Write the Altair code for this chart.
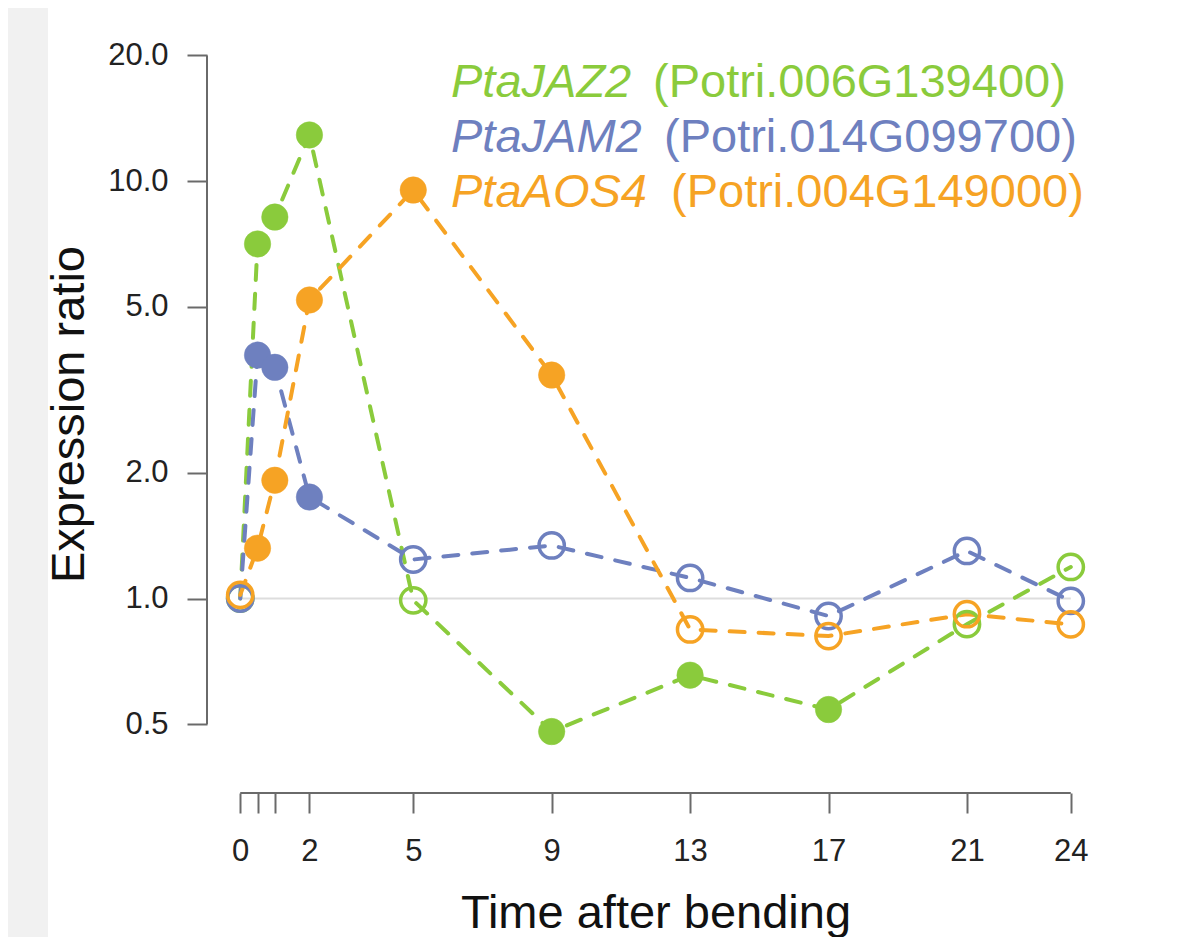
import altair as alt
import pandas as pd

# ---------------- data ----------------
hours = [0, 0.5, 1, 2, 5, 9, 13, 17, 21, 24]
genes = ["PtaJAZ2", "PtaJAM2", "PtaAOS4"]
gene_ids = ["(Potri.006G139400)", "(Potri.014G099700)", "(Potri.004G149000)"]
colors = ["#8ACB3C", "#6E80BF", "#F6A324"]

jaz2 = [1.0, 7.07, 8.2, 12.9, 0.99, 0.48, 0.655, 0.542, 0.868, 1.19]
jam2 = [1.0, 3.83, 3.58, 1.75, 1.24, 1.34, 1.12, 0.908, 1.30, 0.987]
aos4 = [1.02, 1.32, 1.92, 5.19, 9.52, 3.43, 0.843, 0.813, 0.917, 0.867]

jaz2_sig = [False, True, True, True, False, True, True, True, False, False]
jam2_sig = [False, True, True, True, False, False, False, False, False, False]
aos4_sig = [False, True, True, True, True, True, False, False, False, False]

y_ticks = [0.5, 1, 2, 5, 10, 20]
x_ticks = hours
unlabeled_hours = [0.5, 1]

# ---------------- table ----------------
rows = []
for g, vals, sig in zip(genes, [jaz2, jam2, aos4], [jaz2_sig, jam2_sig, aos4_sig]):
    for h, v, s in zip(hours, vals, sig):
        rows.append({"gene": g, "hour": h, "ratio": v, "sig": s})
df = pd.DataFrame(rows)

W, H = 897, 766
FONT = "Liberation Sans"

cscale = alt.Scale(domain=genes, range=colors)
xscale = alt.Scale(domain=[-0.96, 24.96], nice=False, zero=False)
yscale = alt.Scale(type="log", domain=[0.342, 23.4], nice=False)

label_expr = "indexof([" + ",".join(str(u) for u in unlabeled_hours) + "], datum.value) >= 0 ? '' : toString(datum.value)"

x_enc = alt.X(
    "hour:Q",
    scale=xscale,
    axis=alt.Axis(
        values=x_ticks, labelExpr=label_expr, title="Time after bending",
        domain=False, grid=False, tickSize=20, tickWidth=2, tickColor="#6a6a6a",
        labelFontSize=31, labelFont=FONT, labelColor="#222222", labelPadding=23,
        labelFlush=False, labelOverlap=False,
        titleFontSize=47, titleFont=FONT, titleFontWeight="normal", titleColor="#111111",
        titleY=134, titleBaseline="alphabetic",
    ),
)
y_enc = alt.Y(
    "ratio:Q",
    scale=yscale,
    axis=alt.Axis(
        values=y_ticks, format=".1f", title="Expression ratio",
        domain=False, grid=False, tickSize=20, tickWidth=2, tickColor="#6a6a6a",
        labelFontSize=31, labelFont=FONT, labelColor="#222222", labelPadding=19,
        labelOverlap=False, labelFlush=False,
        titleFontSize=47, titleFont=FONT, titleFontWeight="normal", titleColor="#111111",
        titleX=-124, titleY=387, titleBaseline="alphabetic", titleAngle=270,
    ),
)

one = pd.DataFrame({"k": [0]})

strip = alt.Chart(one).mark_rect(color="#f1f1f1").encode(
    x=alt.value(-199), x2=alt.value(-159), y=alt.value(-19), y2=alt.value(H + 144)
)

ref_line = alt.Chart(one).mark_rule(color="#dddddd", strokeWidth=2).encode(
    x=alt.datum(x_ticks[0]), x2=alt.datum(x_ticks[-1]), y=alt.datum(1)
)

lines = alt.Chart(df).mark_line(strokeWidth=4, strokeDash=[15, 14], strokeCap="round").encode(
    x=x_enc, y=y_enc,
    color=alt.Color("gene:N", scale=cscale, legend=None),
    order="hour:Q",
)

points = alt.Chart(df).mark_point(shape="circle", opacity=1).encode(
    x=x_enc, y=y_enc,
    stroke=alt.Stroke("gene:N", scale=cscale, legend=None),
    fill=alt.condition(alt.datum.sig, alt.Fill("gene:N", scale=cscale, legend=None), alt.value("transparent")),
    size=alt.condition(alt.datum.sig, alt.value(700), alt.value(640)),
    strokeWidth=alt.condition(alt.datum.sig, alt.value(0.5), alt.value(3.5)),
)

x_axis_line = alt.Chart(one).mark_rule(color="#6a6a6a", strokeWidth=2).encode(
    x=alt.datum(x_ticks[0]), x2=alt.datum(x_ticks[-1]), y=alt.value(H)
)
y_axis_line = alt.Chart(one).mark_rule(color="#6a6a6a", strokeWidth=2).encode(
    y=alt.datum(y_ticks[0]), y2=alt.datum(y_ticks[-1]), x=alt.value(0)
)

# legend (custom text: italic gene name + plain id)
name_x = 244
id_x = [446, 457, 464]
row_y = [70, 125, 180]
legend_layers = []
for i, (g, gid, c) in enumerate(zip(genes, gene_ids, colors)):
    t = pd.DataFrame({"txt": [g], "id": [gid]})
    legend_layers.append(
        alt.Chart(t).mark_text(align="left", baseline="alphabetic", fontSize=47, font=FONT,
                               fontStyle="italic", color=c).encode(
            x=alt.value(name_x), y=alt.value(row_y[i]), text="txt:N")
    )
    legend_layers.append(
        alt.Chart(t).mark_text(align="left", baseline="alphabetic", fontSize=47, font=FONT,
                               color=c).encode(
            x=alt.value(id_x[i]), y=alt.value(row_y[i]), text="id:N")
    )

chart = alt.layer(
    strip, ref_line, lines, points, x_axis_line, y_axis_line, *legend_layers
).properties(
    width=W, height=H,
    background="white",
    autosize=alt.AutoSizeParams(type="none"),
    padding={"left": 199, "top": 19, "right": 76, "bottom": 144},
).configure_view(stroke=None)

chart.save("out.html", embed_options={"renderer": "svg", "actions": False})
